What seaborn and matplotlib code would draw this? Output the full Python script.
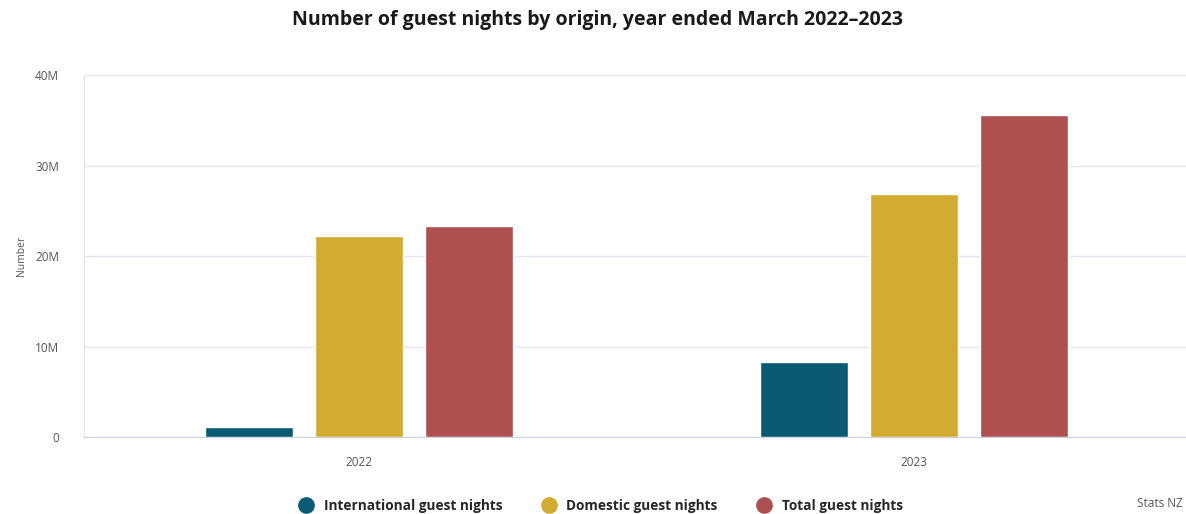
import pandas as pd
import matplotlib.pyplot as plt
import seaborn as sns
from matplotlib.ticker import FuncFormatter
from matplotlib.lines import Line2D

# values (millions of guest nights)
years = ["2022", "2023"]
series = ["International guest nights", "Domestic guest nights", "Total guest nights"]
international = [1.1, 8.3]
domestic = [22.2, 26.9]
total = [23.3, 35.6]
colors = ["#0B5A73", "#D2AC30", "#AE4F50"]

rows = []
for name, vals in zip(series, [international, domestic, total]):
    for y, v in zip(years, vals):
        rows.append({"year": y, "series": name, "value": v * 1e6})
df = pd.DataFrame(rows)

sns.set_style("white")
plt.rcParams["font.family"] = ["Open Sans", "DejaVu Sans"]

fig = plt.figure(figsize=(11.86, 5.14), dpi=100)
ax = fig.add_axes([0.0708, 0.1498, 0.9292, 0.7042])

sns.barplot(data=df, x="year", y="value", hue="series", hue_order=series,
            palette=colors, width=0.594, gap=0.2, saturation=1, ax=ax,
            legend=False)

ax.set_xlim(-0.495, 1.49)
ax.set_ylim(0, 40e6)
ax.set_yticks([0, 10e6, 20e6, 30e6, 40e6])
ax.yaxis.set_major_formatter(FuncFormatter(lambda v, p: "0" if v == 0 else f"{v/1e6:.0f}M"))
ax.grid(axis="y", color="#e6e7ee", linewidth=1)
ax.set_axisbelow(True)

for s in ["top", "right"]:
    ax.spines[s].set_visible(False)
ax.spines["left"].set_color("#e3e5ec")
ax.spines["bottom"].set_color("#ccd3e0")
ax.tick_params(axis="y", length=0, pad=18, labelsize=8.5, labelcolor="#555555")
ax.tick_params(axis="x", length=6, color="#ccd3e0", pad=8, labelsize=8.5, labelcolor="#555555")
ax.set_xlabel("")
ax.set_ylabel("Number", fontsize=7.5, color="#555555", labelpad=6)

fig.text(0.504, 0.961, "Number of guest nights by origin, year ended March 2022\u20132023",
         ha="center", va="center", fontsize=14, fontweight="bold", color="#1a1a1a")

handles = [Line2D([], [], marker="o", linestyle="", markersize=11,
                  markerfacecolor=c, markeredgecolor=c) for c in colors]
fig.legend(handles, series, loc="center", bbox_to_anchor=(0.504, 0.016), ncol=3,
           frameon=False, handletextpad=0.3, columnspacing=2.4,
           prop={"family": ["Open Sans", "DejaVu Sans"], "weight": "bold", "size": 9.8})

fig.text(0.959, 0.008, "Stats NZ", ha="left", va="bottom", fontsize=8.5, color="#555555")

fig.savefig("out.png", dpi=100)
